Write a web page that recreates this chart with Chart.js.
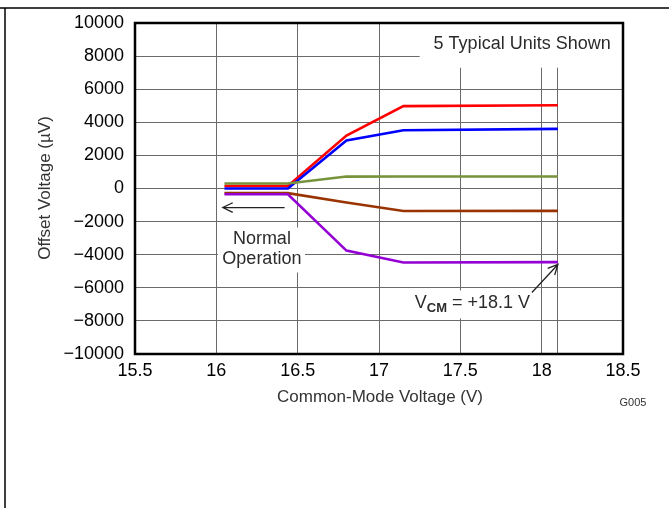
<!DOCTYPE html>
<html>
<head>
<meta charset="utf-8">
<script src="https://cdn.jsdelivr.net/npm/chart.js@4.4.1/dist/chart.umd.min.js"></script>
<style>
  html, body { margin: 0; padding: 0; background: #fff; }
</style>
</head>
<body>
<canvas id="myChart" width="669" height="508"></canvas>
<script>
// data
const voltages = [16.05, 16.44, 16.8, 17.15, 18.1];
const unitRed = [150, 150, 3200, 4980, 5030];
const unitBlue = [0, 0, 2900, 3520, 3600];
const unitGreen = [300, 300, 720, 725, 725];
const unitBrown = [-280, -280, -850, -1360, -1350];
const unitPurple = [-350, -350, -3750, -4470, -4450];

const xTicks = [15.5, 16, 16.5, 17, 17.5, 18, 18.1, 18.5];
const xTickLabels = ['15.5', '16', '16.5', '17', '17.5', '18', '', '18.5'];

const FONT = '"Liberation Sans", Arial, sans-serif';

// white label boxes, text and arrows drawn on top of the grid
const annotations = {
  id: 'annotations',
  beforeDatasetsDraw(chart) {
    const { ctx, scales: { x, y } } = chart;
    ctx.save();
    ctx.fillStyle = '#fff';
    const box = (x0, x1, y0, y1) => {
      const l = x.getPixelForValue(x0), r = x.getPixelForValue(x1);
      const t = y.getPixelForValue(y1), b = y.getPixelForValue(y0);
      ctx.fillRect(l, t, r - l, b - t);
    };
    box(17.25, 18.5, 7300, 10000);
    box(16.01, 16.545, -5075, -2360);
    box(17.21, 17.99, -7850, -6160);

    ctx.fillStyle = '#2b2b2b';
    ctx.font = '18px ' + FONT;
    ctx.textAlign = 'center';
    ctx.textBaseline = 'middle';
    ctx.fillText('5 Typical Units Shown', x.getPixelForValue(17.88), y.getPixelForValue(8700));
    ctx.fillText('Normal', x.getPixelForValue(16.28), y.getPixelForValue(-3080));
    ctx.fillText('Operation', x.getPixelForValue(16.28), y.getPixelForValue(-4290));

    // V_CM = +18.1 V
    ctx.textAlign = 'left';
    ctx.textBaseline = 'alphabetic';
    let px = x.getPixelForValue(17.22);
    const base = y.getPixelForValue(-7250);
    ctx.fillText('V', px, base);
    px += ctx.measureText('V').width;
    ctx.font = 'bold 13px ' + FONT;
    ctx.fillText('CM', px, base + 4);
    px += ctx.measureText('CM').width;
    ctx.font = '18px ' + FONT;
    ctx.fillText(' = +18.1 V', px, base);

    // arrows
    const arrow = (fx, fy, tx, ty) => {
      const x1 = x.getPixelForValue(fx), y1 = y.getPixelForValue(fy);
      const x2 = x.getPixelForValue(tx), y2 = y.getPixelForValue(ty);
      const a = Math.atan2(y2 - y1, x2 - x1);
      ctx.strokeStyle = '#222';
      ctx.lineWidth = 1.3;
      ctx.beginPath();
      ctx.moveTo(x1, y1);
      ctx.lineTo(x2, y2);
      ctx.moveTo(x2 - 11 * Math.cos(a - 0.45), y2 - 11 * Math.sin(a - 0.45));
      ctx.lineTo(x2, y2);
      ctx.lineTo(x2 - 11 * Math.cos(a + 0.45), y2 - 11 * Math.sin(a + 0.45));
      ctx.stroke();
    };
    arrow(16.42, -1150, 16.04, -1150);
    arrow(17.94, -6280, 18.1, -4590);
    ctx.restore();
  },
  afterDraw(chart) {
    const { ctx, chartArea: a } = chart;
    ctx.save();
    // plot frame
    ctx.strokeStyle = '#000';
    ctx.lineWidth = 2.5;
    ctx.strokeRect(a.left, a.top, a.right - a.left, a.bottom - a.top);
    // page frame
    ctx.lineWidth = 1.5;
    ctx.beginPath();
    ctx.moveTo(0, 8);
    ctx.lineTo(669, 8);
    ctx.moveTo(5, 8);
    ctx.lineTo(5, 508);
    ctx.stroke();
    // axis titles
    ctx.fillStyle = '#333';
    ctx.font = '17px ' + FONT;
    ctx.textAlign = 'center';
    ctx.textBaseline = 'middle';
    ctx.fillText('Common-Mode Voltage (V)', 380, 397);
    ctx.translate(45, 188);
    ctx.rotate(-Math.PI / 2);
    ctx.fillText('Offset Voltage (\u00B5V)', 0, 0);
    ctx.restore();
    ctx.save();
    ctx.fillStyle = '#333';
    ctx.font = '11px ' + FONT;
    ctx.textAlign = 'center';
    ctx.textBaseline = 'middle';
    ctx.fillText('G005', 633, 403);
    ctx.restore();
  }
};

const series = [
  { data: unitPurple, color: '#9400d3' },
  { data: unitBrown, color: '#993300' },
  { data: unitGreen, color: '#77933c' },
  { data: unitBlue, color: '#0000ff' },
  { data: unitRed, color: '#ff0000' },
];

new Chart(document.getElementById('myChart'), {
  type: 'line',
  data: {
    datasets: series.map(s => ({
      data: voltages.map((v, i) => ({ x: v, y: s.data[i] })),
      borderColor: s.color,
      borderWidth: 2.6,
      pointRadius: 0,
      tension: 0,
      fill: false,
    })),
  },
  options: {
    responsive: false,
    animation: false,
    layout: { padding: { left: 0, top: 23, right: 46, bottom: 0 } },
    plugins: { legend: { display: false }, tooltip: { enabled: false } },
    scales: {
      x: {
        type: 'linear',
        min: 15.5,
        max: 18.5,
        afterBuildTicks: s => { s.ticks = xTicks.map(v => ({ value: v })); },
        afterFit: s => { s.height = 154; },
        ticks: {
          autoSkip: false,
          maxRotation: 0,
          padding: 6,
          color: '#000',
          font: { family: FONT, size: 18 },
          callback: (v, i) => xTickLabels[i],
        },
        grid: { color: '#6a6a6a', lineWidth: 1, drawTicks: false },
        border: { display: false },
      },
      y: {
        min: -10000,
        max: 10000,
        afterFit: s => { s.width = 135; },
        ticks: {
          stepSize: 2000,
          padding: 11,
          color: '#000',
          font: { family: FONT, size: 18 },
          callback: v => String(v).replace('-', '\u2212'),
        },
        grid: { color: '#6a6a6a', lineWidth: 1, drawTicks: false },
        border: { display: false },
      },
    },
  },
  plugins: [annotations],
});
</script>
</body>
</html>
